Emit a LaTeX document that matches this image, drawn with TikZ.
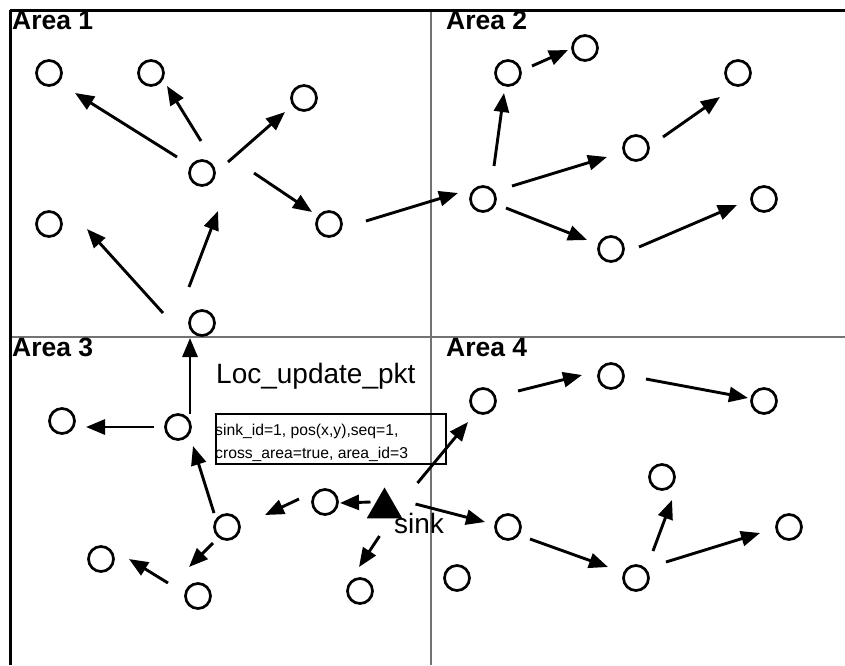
\documentclass[tikz,border=0pt]{standalone}
\usepackage{fontspec}
\setmainfont{Liberation Sans}
\usetikzlibrary{arrows.meta,shapes.geometric}

\begin{document}
\begin{tikzpicture}[x=1pt,y=-1pt,
  sensor/.style={circle,draw,line width=2.7pt,minimum size=25pt,inner sep=0pt,outer sep=0pt},
  hop/.style={line width=2.9pt,-{Triangle[length=19pt,width=15pt]}},
  frameline/.style={line width=3pt},
  divider/.style={line width=1.8pt,draw=black!55},
  arealabel/.style={anchor=base west,inner sep=0pt,font=\fontsize{26.5}{30}\selectfont\bfseries},
  bigtext/.style={anchor=base west,inner sep=0pt,font=\fontsize{28}{32}\selectfont},
  smalltext/.style={anchor=base west,inner sep=0pt,font=\fontsize{15.7}{18}\selectfont}
]
\useasboundingbox (0,0) rectangle (845,665);

% area borders and dividers
\draw[divider] (431,10) -- (431,665);
\draw[divider] (10,337) -- (845,337);
\draw[frameline] (10,10) -- (845,10);
\draw[frameline] (10,10) -- (10,665);

% area titles
\node[arealabel] (t1) at (12,29) {Area 1};
\node[arealabel] (t2) at (446,29) {Area 2};
\node[arealabel] (t3) at (12,356) {Area 3};
\node[arealabel] (t4) at (446,356) {Area 4};

% sensor nodes, area 1
\node[sensor] (n1) at (49,73) {};
\node[sensor] (n2) at (151,73) {};
\node[sensor] (n3) at (304,98) {};
\node[sensor] (n4) at (202,173) {};
\node[sensor] (n5) at (329,224) {};
\node[sensor] (n6) at (49,224) {};
\node[sensor] (n7) at (202,323) {};

% sensor nodes, area 2
\node[sensor] (m1) at (508,73) {};
\node[sensor] (m2) at (585,48) {};
\node[sensor] (m3) at (738,73) {};
\node[sensor] (m4) at (636,148) {};
\node[sensor] (m5) at (483,199) {};
\node[sensor] (m6) at (764,199) {};
\node[sensor] (m7) at (611,249) {};

% sensor nodes, area 3
\node[sensor] (p1) at (62,421) {};
\node[sensor] (p2) at (178,427) {};
\node[sensor] (p3) at (227,527) {};
\node[sensor] (p4) at (325,502) {};
\node[sensor] (p5) at (101,559) {};
\node[sensor] (p6) at (198,596) {};
\node[sensor] (p7) at (360,591) {};

% sensor nodes, area 4
\node[sensor] (q1) at (483,401) {};
\node[sensor] (q2) at (508,527) {};
\node[sensor] (q3) at (611,376) {};
\node[sensor] (q4) at (764,401) {};
\node[sensor] (q5) at (662,477) {};
\node[sensor] (q6) at (789,527) {};
\node[sensor] (q7) at (457,578) {};
\node[sensor] (q8) at (636,578) {};

% the sink
\node[regular polygon,regular polygon sides=3,fill=black,inner sep=0pt,outer sep=0pt,minimum size=41pt] (sink) at (384.5,508) {};
\node[bigtext] (sinklbl) at (394,533) {sink};

% location update packet
\node[bigtext] (pkttitle) at (216,383) {Loc\_update\_pkt};
\node[draw,line width=2pt,inner sep=0pt,anchor=north west,minimum width=230pt,minimum height=50pt] (pkt) at (215,413) {};
\node[smalltext] (pktA) at (215,435) {sink\_id=1, pos(x,y),seq=1,};
\node[smalltext] (pktB) at (215,458) {cross\_area=true, area\_id=3};

% forwarding hops, area 1
\draw[hop] ([shift={(-25,-16)}]n4.center) -- ([shift={(26,20)}]n1.center);
\draw[hop] ([shift={(-1,-32)}]n4.center) -- ([shift={(16,13)}]n2.center);
\draw[hop] ([shift={(26,-11)}]n4.center) -- ([shift={(-19,14)}]n3.center);
\draw[hop] ([shift={(52,0)}]n4.center) -- ([shift={(-17,-12)}]n5.center);
\draw[hop] ([shift={(-39,-10)}]n7.center) -- ([shift={(38,5)}]n6.center);
\draw[hop] ([shift={(-13,-36)}]n7.center) -- ([shift={(16,38)}]n4.center);
\draw[hop] ([shift={(37,-3)}]n5.center) -- ([shift={(-25,-6)}]m5.center);

% forwarding hops, area 2
\draw[hop] ([shift={(11,-33)}]m5.center) -- ([shift={(-4,20)}]m1.center);
\draw[hop] ([shift={(24,-7)}]m1.center) -- ([shift={(-17,2)}]m2.center);
\draw[hop] ([shift={(29,-13)}]m5.center) -- ([shift={(-29,9)}]m4.center);
\draw[hop] ([shift={(27,-11)}]m4.center) -- ([shift={(-18,24)}]m3.center);
\draw[hop] ([shift={(23,9)}]m5.center) -- ([shift={(-24,-9)}]m7.center);
\draw[hop] ([shift={(28,-2)}]m7.center) -- ([shift={(-27,6)}]m6.center);

% forwarding hops, area 3
\draw[hop] ([shift={(12,-13)}]p2.center) -- ([shift={(-12,15)}]n7.center);
\draw[hop] ([shift={(-24,0)}]p2.center) -- ([shift={(24,6)}]p1.center);
\draw[hop] ([shift={(-13,-14)}]p3.center) -- ([shift={(15,19)}]p2.center);
\draw[hop] ([shift={(-26,-3)}]p4.center) -- ([shift={(38,-12)}]p3.center);
\draw[hop] ([shift={(-14,-6)}]sink.center) -- ([shift={(15,1)}]p4.center);
\draw[hop] ([shift={(-14,16)}]p3.center) -- ([shift={(-9,-29)}]p6.center);
\draw[hop] ([shift={(-30,-13)}]p6.center) -- ([shift={(28,0)}]p5.center);
\draw[hop] ([shift={(-5,28)}]sink.center) -- ([shift={(-1,-24)}]p7.center);

% forwarding hops, area 4
\draw[hop] ([shift={(33,-25)}]sink.center) -- ([shift={(-15,21)}]q1.center);
\draw[hop] ([shift={(31,-4)}]sink.center) -- ([shift={(-23,-5)}]q2.center);
\draw[hop] ([shift={(35,-10)}]q1.center) -- ([shift={(-29,-1)}]q3.center);
\draw[hop] ([shift={(35,3)}]q3.center) -- ([shift={(-16,-3)}]q4.center);
\draw[hop] ([shift={(22,12)}]q2.center) -- ([shift={(-28,-11)}]q8.center);
\draw[hop] ([shift={(17,-27)}]q8.center) -- ([shift={(10,23)}]q5.center);
\draw[hop] ([shift={(30,-16)}]q8.center) -- ([shift={(-29,6)}]q6.center);
\end{tikzpicture}
\end{document}
